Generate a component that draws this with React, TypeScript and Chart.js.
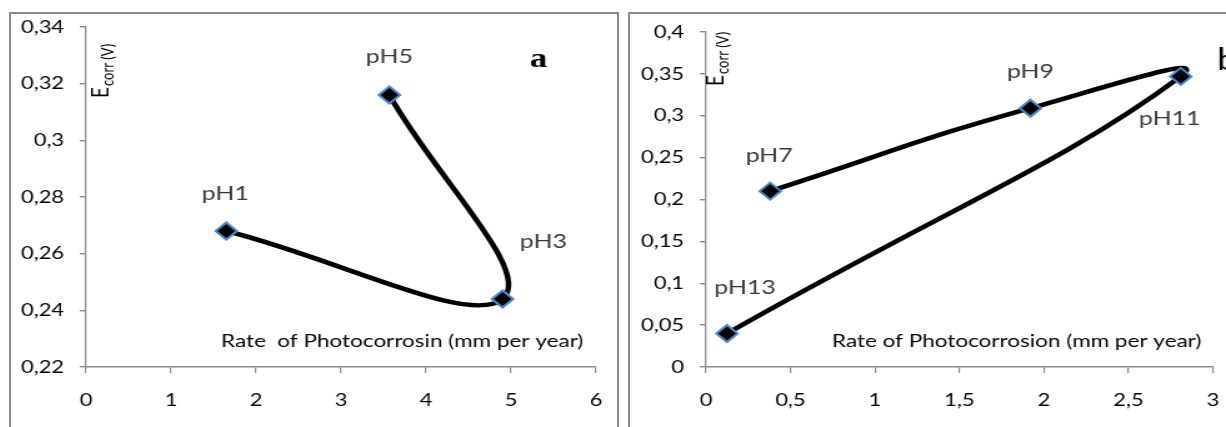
import { useEffect, useRef } from 'react';
import { Chart, registerables } from 'chart.js';

Chart.register(...registerables);

// ---- data: panel a ----
const leftLabels = ['pH1', 'pH3', 'pH5'];
const leftRate = [1.65, 4.9, 3.57];
const leftEcorr = [0.268, 0.244, 0.316];
const leftXTicks = [0, 1, 2, 3, 4, 5, 6];
const leftYTicks = [0.22, 0.24, 0.26, 0.28, 0.3, 0.32, 0.34];

// ---- data: panel b ----
const rightLabels = ['pH7', 'pH9', 'pH11', 'pH13'];
const rightRate = [0.38, 1.92, 2.81, 0.124];
const rightEcorr = [0.21, 0.309, 0.347, 0.04];
const rightXTicks = [0, 0.5, 1, 1.5, 2, 2.5, 3];
const rightYTicks = [0, 0.05, 0.1, 0.15, 0.2, 0.25, 0.3, 0.35, 0.4];

const S = 1.25; // horizontal stretch of the picture
const FONT = 'Lato';
const AXIS = '#8c8c8c';

const fmt = (v: number) => String(Math.round(Number(v) * 100) / 100).replace('.', ',');

const panelText = {
  id: 'panelText',
  afterDatasetsDraw(chart: any, _args: any, o: any) {
    const ctx = chart.ctx;
    const a = chart.chartArea;
    const meta = chart.getDatasetMeta(0);
    ctx.save();
    // point labels
    ctx.fillStyle = '#3a3a3a';
    ctx.font = `20px ${FONT}`;
    ctx.textAlign = 'center';
    ctx.textBaseline = 'alphabetic';
    o.labels.forEach((t: string, i: number) => {
      const p = meta.data[i];
      const [dx, dy] = o.offsets[i];
      ctx.fillText(t, p.x + dx / S, p.y + dy);
    });
    // x title
    ctx.fillStyle = '#000';
    ctx.textAlign = 'left';
    ctx.font = `18px ${FONT}`;
    ctx.fillText(o.xTitle, a.left + o.xTitlePos[0], a.bottom + o.xTitlePos[1]);
    // y title (rotated)
    ctx.save();
    ctx.translate(a.left + o.yTitlePos[0], a.top + o.yTitlePos[1]);
    ctx.rotate(-Math.PI / 2);
    ctx.font = `19px ${FONT}`;
    ctx.fillText('E', 0, 0);
    const w = ctx.measureText('E').width;
    ctx.font = `13px ${FONT}`;
    ctx.fillText('corr (V)', w + 1, 4);
    ctx.restore();
    // panel letter
    ctx.font = o.letterFont;
    ctx.fillText(o.letter, a.left + o.letterPos[0], a.top + o.letterPos[1]);
    ctx.restore();
  },
};

type PanelProps = {
  left: number;
  w: number;
  h: number;
  padTop: number;
  padRight: number;
  tension: number;
  rate: number[];
  ecorr: number[];
  labels: string[];
  offsets: number[][];
  xTicks: number[];
  yTicks: number[];
  xTitle: string;
  xTitlePos: number[];
  yTitlePos: number[];
  letter: string;
  letterFont: string;
  letterPos: number[];
};

function Panel(p: PanelProps) {
  const ref = useRef<HTMLCanvasElement | null>(null);
  useEffect(() => {
    if (!ref.current) return;
    const tickFont = { family: FONT, size: 17.5 };
    const chart = new Chart(ref.current, {
      type: 'line',
      data: {
        datasets: [
          {
            data: p.rate.map((x, i) => ({ x, y: p.ecorr[i] })),
            borderColor: '#000',
            borderWidth: 4.5,
            tension: p.tension,
            fill: false,
            pointStyle: 'rectRot',
            pointRadius: 8.5,
            pointBackgroundColor: '#000',
            pointBorderColor: '#4f86c6',
            pointBorderWidth: 2,
          },
        ],
      },
      options: {
        animation: false,
        responsive: false,
        events: [],
        layout: { padding: { left: 0, top: p.padTop, right: p.padRight, bottom: 0 } },
        plugins: {
          legend: { display: false },
          tooltip: { enabled: false },
          panelText: {
            labels: p.labels,
            offsets: p.offsets,
            xTitle: p.xTitle,
            xTitlePos: p.xTitlePos,
            yTitlePos: p.yTitlePos,
            letter: p.letter,
            letterFont: p.letterFont,
            letterPos: p.letterPos,
          },
        } as any,
        scales: {
          x: {
            type: 'linear',
            min: p.xTicks[0],
            max: p.xTicks[p.xTicks.length - 1],
            afterBuildTicks: (s: any) => {
              s.ticks = p.xTicks.map((v) => ({ value: v }));
            },
            afterFit: (s: any) => {
              s.height = 60;
              s.paddingLeft = 0;
              s.paddingRight = 0;
            },
            grid: { drawOnChartArea: false, tickLength: 6, color: AXIS, lineWidth: 1.2 },
            border: { color: AXIS, width: 1.6 },
            ticks: { font: tickFont, color: '#000', padding: 17, maxRotation: 0, callback: (v: any) => fmt(v) },
          },
          y: {
            type: 'linear',
            min: p.yTicks[0],
            max: p.yTicks[p.yTicks.length - 1],
            afterBuildTicks: (s: any) => {
              s.ticks = p.yTicks.map((v) => ({ value: v }));
            },
            afterFit: (s: any) => {
              s.width = 60;
              s.paddingTop = 0;
              s.paddingBottom = 0;
            },
            grid: { drawOnChartArea: false, tickLength: 5, color: AXIS, lineWidth: 1.4 },
            border: { color: AXIS, width: 1.3 },
            ticks: { font: tickFont, color: '#000', padding: 12.5, callback: (v: any) => fmt(v) },
          },
        },
      },
      plugins: [panelText],
    } as any);
    return () => chart.destroy();
  }, []);
  return (
    <canvas
      ref={ref}
      width={p.w}
      height={p.h}
      style={{
        position: 'absolute',
        left: p.left,
        top: 0,
        width: p.w,
        height: p.h,
        transform: `scaleX(${S})`,
        transformOrigin: '0 0',
      }}
    />
  );
}

export default function App() {
  const border = '2px solid #8a8a8a';
  return (
    <div
      style={{
        position: 'fixed',
        left: 0,
        top: 0,
        width: 1226,
        height: 427,
        overflow: 'hidden',
        background: '#fff',
      }}
    >
      <div style={{ position: 'absolute', left: 9, top: 12, width: 610, height: 440, border, boxSizing: 'border-box' }} />
      <div style={{ position: 'absolute', left: 628, top: 12, width: 640, height: 440, border, boxSizing: 'border-box' }} />
      <Panel
        left={11}
        w={485}
        h={427}
        padTop={27}
        padRight={17}
        tension={0.4}
        rate={leftRate}
        ecorr={leftEcorr}
        labels={leftLabels}
        offsets={[[-1, -31], [41, -51], [0, -32]]}
        xTicks={leftXTicks}
        yTicks={leftYTicks}
        xTitle="Rate  of Photocorrosin (mm per year)"
        xTitlePos={[108, -20]}
        yTitlePos={[18.4, 71]}
        letter="a"
        letterFont="bold 28px 'Liberation Serif'"
        letterPos={[355, 40]}
      />
      <Panel
        left={631}
        w={476}
        h={427}
        padTop={32}
        padRight={10}
        tension={0.5}
        rate={rightRate}
        ecorr={rightEcorr}
        labels={rightLabels}
        offsets={[[-1, -29], [0, -30], [-11, 49], [18, -40]]}
        xTicks={rightXTicks}
        yTicks={rightYTicks}
        xTitle="Rate of Photocorrosion (mm per year)"
        xTitlePos={[100.8, -20]}
        yTitlePos={[13.6, 54]}
        letter="b"
        letterFont={`30px ${FONT}`}
        letterPos={[408.8, 38]}
      />
    </div>
  );
}
